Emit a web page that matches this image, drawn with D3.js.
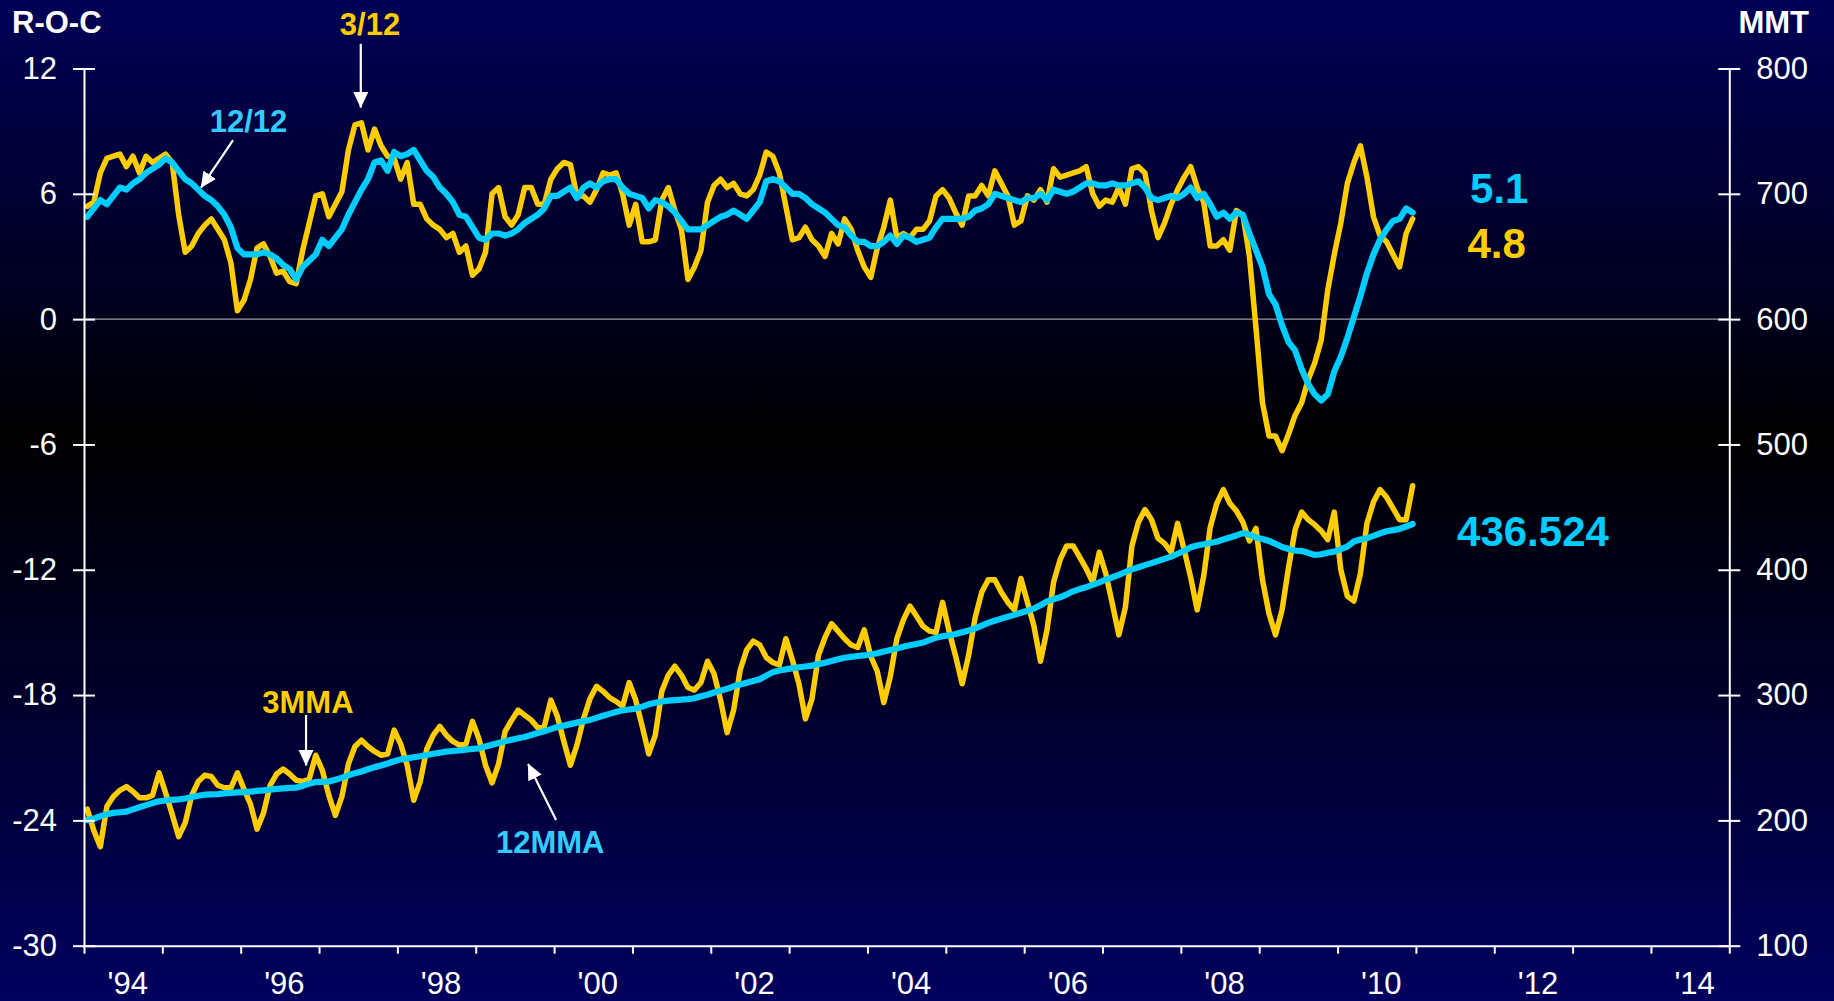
<!DOCTYPE html>
<html><head><meta charset="utf-8">
<script src="https://cdn.jsdelivr.net/npm/d3@7"></script>
<style>
html,body{margin:0;padding:0;background:#000;}
svg{display:block;}
</style></head><body>
<svg id="chart" width="1834" height="1001"></svg>
<script>
// ---- DATA: monthly, Jan 1994 .. Dec 2010 (one row per year) ----
const startYear = 1994;
const roc3 = [ // 3/12 rate of change (%), left axis
  5.4, 5.6, 7.0, 7.7, 7.8, 7.9, 7.3, 7.8, 7.0, 7.8, 7.5, 7.7,
  7.9, 7.5, 5.0, 3.2, 3.5, 4.1, 4.5, 4.8, 4.3, 3.8, 2.7, 0.4,
  0.9, 1.9, 3.4, 3.6, 3.0, 2.2, 2.3, 1.8, 1.7, 3.3, 4.6, 5.9,
  6.0, 4.9, 5.5, 6.1, 8.1, 9.3, 9.4, 8.1, 9.1, 8.3, 7.8, 7.7,
  6.7, 7.5, 5.5, 5.5, 4.8, 4.5, 4.3, 3.9, 4.1, 3.2, 3.5, 2.1,
  2.4, 3.2, 6.0, 6.3, 4.9, 4.5, 5.0, 6.3, 6.3, 5.5, 5.5, 6.7,
  7.2, 7.5, 7.4, 5.9, 5.9, 5.6, 6.2, 7.0, 6.9, 7.0, 6.0, 4.5,
  5.5, 3.7, 3.7, 3.8, 5.7, 6.3, 5.2, 4.3, 1.9, 2.5, 3.3, 5.6,
  6.4, 6.7, 6.3, 6.5, 6.0, 5.9, 6.2, 6.9, 8.0, 7.8, 7.0, 5.4,
  3.8, 3.9, 4.4, 3.8, 3.5, 3.0, 4.1, 3.6, 4.8, 4.3, 3.3, 2.5,
  2.0, 3.4, 4.4, 5.7, 3.9, 4.1, 3.9, 4.3, 4.3, 4.7, 5.9, 6.2,
  5.8, 5.1, 4.5, 5.9, 5.9, 6.4, 5.9, 7.1, 6.5, 5.9, 4.5, 4.7,
  5.9, 5.7, 6.2, 5.6, 7.2, 6.8, 6.9, 7.0, 7.1, 7.3, 6.0, 5.4,
  5.7, 5.6, 6.3, 5.5, 7.2, 7.3, 7.0, 5.2, 3.9, 4.6, 5.5, 6.2,
  6.8, 7.3, 6.3, 5.6, 3.5, 3.5, 3.8, 3.3, 5.2, 5.0, 3.0, -0.4,
  -4.0, -5.6, -5.6, -6.3, -5.5, -4.6, -4.0, -2.9, -2.1, -1.0, 1.4, 3.1,
  4.6, 6.5, 7.5, 8.3, 6.8, 4.9, 4.0, 3.7, 3.1, 2.5, 4.1, 4.8
];
const roc12 = [ // 12/12 rate of change (%), left axis
  4.9, 5.3, 5.7, 5.5, 5.9, 6.3, 6.2, 6.5, 6.7, 7.0, 7.2, 7.4,
  7.7, 7.5, 7.1, 6.7, 6.5, 6.2, 5.9, 5.7, 5.4, 5.0, 4.4, 3.4,
  3.1, 3.1, 3.1, 3.2, 3.1, 2.9, 2.6, 2.4, 1.9, 2.5, 2.8, 3.1,
  3.8, 3.5, 3.9, 4.3, 5.0, 5.6, 6.2, 6.7, 7.5, 7.6, 7.1, 8.0,
  7.8, 7.9, 8.1, 7.6, 7.1, 6.8, 6.3, 6.0, 5.6, 5.0, 4.9, 4.4,
  3.9, 3.8, 4.1, 4.1, 4.0, 4.1, 4.3, 4.6, 4.8, 5.0, 5.3, 5.9,
  5.9, 6.1, 6.3, 5.8, 6.3, 6.5, 6.3, 6.6, 6.7, 6.7, 6.3, 6.0,
  5.9, 5.8, 5.3, 5.7, 5.6, 5.4, 5.1, 4.7, 4.3, 4.3, 4.3, 4.5,
  4.7, 4.9, 5.0, 5.2, 5.0, 4.8, 5.2, 5.6, 6.6, 6.7, 6.6, 6.3,
  6.0, 6.0, 5.8, 5.5, 5.3, 5.1, 4.8, 4.5, 4.4, 4.0, 3.7, 3.7,
  3.5, 3.5, 3.7, 4.0, 3.6, 4.0, 3.9, 3.7, 3.8, 3.9, 4.4, 4.8,
  4.8, 4.8, 4.8, 4.9, 5.2, 5.3, 5.5, 6.0, 5.9, 5.8, 5.7, 5.6,
  5.8, 5.8, 6.0, 5.7, 6.2, 6.1, 6.0, 6.1, 6.3, 6.5, 6.5, 6.4,
  6.4, 6.5, 6.4, 6.4, 6.5, 6.6, 6.3, 5.8, 5.7, 5.8, 5.9, 5.8,
  6.0, 6.3, 5.8, 6.0, 5.5, 4.9, 5.1, 4.8, 5.1, 5.0, 4.1, 3.3,
  2.5, 1.2, 0.7, -0.3, -1.1, -1.5, -2.4, -3.1, -3.6, -3.9, -3.6, -2.5,
  -1.8, -0.9, 0.1, 1.1, 2.2, 3.1, 3.8, 4.3, 4.7, 4.8, 5.3, 5.1
];
const mma3 = [ // 3-month moving average (MMT), right axis
  209, 192, 179, 211, 219, 224, 227, 223, 218, 218, 220, 238,
  222, 205, 187, 198, 220, 231, 236, 235, 228, 226, 226, 238,
  225, 213, 193, 206, 228, 237, 241, 237, 232, 231, 233, 252,
  240, 220, 204, 219, 245, 259, 264, 259, 255, 252, 253, 272,
  261, 244, 216, 231, 257, 268, 275, 268, 263, 260, 261, 279,
  265, 244, 230, 245, 271, 280, 288, 284, 280, 274, 275, 296,
  283, 263, 244, 260, 281, 297, 307, 303, 298, 295, 291, 310,
  296, 275, 253, 268, 303, 316, 323, 316, 306, 304, 310, 327,
  317, 296, 270, 288, 320, 336, 343, 340, 330, 326, 324, 345,
  328, 309, 281, 297, 332, 346, 357, 351, 345, 340, 338, 352,
  331, 319, 294, 315, 345, 360, 371, 363, 355, 351, 350, 374,
  351, 331, 309, 332, 362, 382, 392, 392, 382, 374, 368, 393,
  374, 355, 327, 352, 390, 408, 419, 419, 410, 401, 390, 414,
  397, 373, 348, 370, 419, 438, 448, 440, 425, 421, 414, 437,
  416, 394, 368, 395, 434, 453, 464, 453, 447, 438, 423, 433,
  392, 365, 348, 368, 402, 432, 446, 440, 436, 431, 424, 446,
  400, 379, 375, 397, 437, 454, 464, 458, 449, 440, 440, 467
];
const mma12 = [ // 12-month moving average (MMT), right axis
  200.2, 201.4, 203.3, 205.0, 206.0, 206.5, 207.0, 208.8, 210.5, 212.2, 213.8, 215.2,
  215.9, 216.3, 216.8, 217.5, 218.6, 219.7, 220.5, 220.8, 221.0, 221.5, 221.9, 222.3,
  222.6, 223.0, 223.5, 224.0, 224.6, 225.2, 225.6, 226.0, 226.2, 227.5, 229.3, 230.6,
  230.8, 231.0, 232.5, 234.0, 236.0, 237.7, 239.0, 240.8, 242.5, 243.8, 245.4, 247.2,
  248.7, 249.5, 250.4, 251.2, 252.2, 253.2, 254.0, 254.9, 255.4, 255.9, 256.5, 257.0,
  257.5, 259.0, 260.4, 261.8, 263.2, 264.4, 265.5, 266.6, 268.2, 269.8, 271.2, 272.8,
  274.5, 275.6, 276.8, 278.0, 279.2, 280.2, 281.8, 283.5, 285.0, 286.5, 287.8, 288.5,
  289.2, 290.8, 292.6, 293.8, 294.9, 295.6, 296.0, 296.3, 296.8, 297.5, 299.0, 300.3,
  302.0, 303.5, 305.0, 307.0, 308.5, 309.8, 311.2, 312.6, 315.5, 318.3, 319.7, 320.5,
  321.5, 322.2, 322.8, 323.5, 324.7, 325.8, 327.1, 328.5, 329.8, 330.5, 331.2, 331.7,
  332.4, 333.4, 334.7, 336.0, 337.2, 338.5, 339.8, 340.8, 341.9, 343.8, 345.8, 346.9,
  347.6, 348.7, 350.2, 351.6, 353.2, 355.4, 357.6, 359.3, 361.0, 362.5, 364.0, 365.7,
  367.3, 369.0, 371.7, 374.8, 376.5, 378.0, 380.3, 382.8, 384.6, 386.1, 388.0, 389.9,
  392.1, 394.0, 396.0, 398.2, 400.3, 402.0, 403.7, 405.3, 407.0, 408.7, 410.5, 412.8,
  415.0, 418.0, 419.4, 420.3, 421.4, 422.3, 424.2, 425.8, 427.4, 429.3, 428.0, 425.8,
  424.6, 423.0, 420.7, 418.2, 416.6, 415.3, 415.0, 413.5, 411.8, 412.4, 413.6, 414.5,
  416.5, 418.5, 422.5, 424.2, 425.2, 427.0, 429.0, 430.7, 431.6, 432.6, 434.5, 436.524
];
const leftTicks  = [-30, -24, -18, -12, -6, 0, 6, 12];
const rightTicks = [100, 200, 300, 400, 500, 600, 700, 800];
const yearLabels = ["'94","'96","'98","'00","'02","'04","'06","'08","'10","'12","'14"];
const totalYears = 21; // axis spans 1994..2014
const endLabels = { roc12: "5.1", roc3: "4.8", mma12: "436.524" };
const seriesNames = { roc3: "3/12", roc12: "12/12", mma3: "3MMA", mma12: "12MMA" };

// ---- LAYOUT ----
const W = 1834, H = 1001;
const plot = { left: 84, right: 1729.3, top: 68.5, bottom: 945.7 };
const YELLOW = "#FFCC00", CYAN = "#00CCFF", CYAN_LABEL = "#33CCFF";
const FONT = "'Liberation Sans', Arial, Helvetica, sans-serif";

const svg = d3.select("#chart");
const defs = svg.append("defs");
const grad = defs.append("linearGradient").attr("id","bg").attr("x1",0).attr("y1",0).attr("x2",0).attr("y2",1);
[["0%","#000056"],["30%","#000020"],["43%","#000000"],["100%","#00005E"]]
  .forEach(([o,c]) => grad.append("stop").attr("offset",o).attr("stop-color",c));
defs.append("marker").attr("id","arrow").attr("viewBox","0 0 16 16")
  .attr("refX",15.5).attr("refY",8).attr("markerWidth",16).attr("markerHeight",16)
  .attr("markerUnits","userSpaceOnUse").attr("orient","auto")
  .append("path").attr("d","M0,0.5 L16,8 L0,15.5 Z").attr("fill","#fff");

svg.append("rect").attr("width",W).attr("height",H).attr("fill","url(#bg)");

const nMonths = totalYears * 12;
const x  = d3.scaleLinear().domain([0, nMonths]).range([plot.left, plot.right]);
const yL = d3.scaleLinear().domain([-30, 12]).range([plot.bottom, plot.top]);
const yR = d3.scaleLinear().domain([100, 800]).range([plot.bottom, plot.top]);

// zero line
svg.append("line").attr("x1", x(0)).attr("x2", x(nMonths))
  .attr("y1", yL(0)).attr("y2", yL(0))
  .attr("stroke","#9a9aa8").attr("stroke-width",1.2);

// series
const lineL = d3.line().x((d,i) => x(i + 0.5)).y(d => yL(d));
const lineR = d3.line().x((d,i) => x(i + 0.5)).y(d => yR(d));
const seriesG = svg.append("g").attr("fill","none").attr("stroke-linejoin","round").attr("stroke-linecap","round");
seriesG.append("path").attr("d", lineR(mma3)).attr("stroke",YELLOW).attr("stroke-width",5.5);
seriesG.append("path").attr("d", lineR(mma12)).attr("stroke",CYAN).attr("stroke-width",6.2);
seriesG.append("path").attr("d", lineL(roc3)).attr("stroke",YELLOW).attr("stroke-width",5.5);
seriesG.append("path").attr("d", lineL(roc12)).attr("stroke",CYAN).attr("stroke-width",6.2);

// axes
function styleAxis(g){
  g.selectAll("path.domain").attr("stroke","#fff").attr("stroke-width",2);
  g.selectAll(".tick line").attr("stroke","#fff").attr("stroke-width",2);
  g.selectAll("text").attr("fill","#fff").style("font-family",FONT).style("font-size","31px");
}
const gL = svg.append("g").attr("transform",`translate(${x(0)},0)`)
  .call(d3.axisLeft(yL).tickValues(leftTicks).tickSizeInner(11).tickSizeOuter(0).tickPadding(16).tickFormat(d => String(d)));
gL.selectAll(".tick line").attr("x1", 11);
styleAxis(gL);

const gR = svg.append("g").attr("transform",`translate(${x(nMonths)},0)`)
  .call(d3.axisRight(yR).tickValues(rightTicks).tickSizeInner(11).tickSizeOuter(0).tickPadding(16).tickFormat(d => String(d)));
gR.selectAll(".tick line").attr("x1", -11);
styleAxis(gR);

const gB = svg.append("g").attr("transform",`translate(0,${yL(-30)})`)
  .call(d3.axisBottom(x).tickValues(d3.range(0, nMonths + 1, 12)).tickSizeInner(8).tickSizeOuter(0).tickFormat(""));
styleAxis(gB);

const gBL = svg.append("g").attr("transform",`translate(0,${yL(-30)})`)
  .call(d3.axisBottom(x).tickValues(yearLabels.map((d,i) => 6 + 24*i)).tickSize(0).tickPadding(26)
    .tickFormat((d,i) => yearLabels[i]));
gBL.select("path.domain").remove();
styleAxis(gBL);
gBL.selectAll("text").attr("dx", 4);

// axis titles
svg.append("text").attr("x", 12).attr("y", 33).text("R-O-C")
  .attr("fill","#fff").style("font-family",FONT).style("font-size","31px").style("font-weight","bold");
svg.append("text").attr("x", 1809).attr("y", 33).attr("text-anchor","end").text("MMT")
  .attr("fill","#fff").style("font-family",FONT).style("font-size","31px").style("font-weight","bold");

// annotations (positioned in data units through the scales)
const notes = [
  { text: seriesNames.roc3,  color: YELLOW,     scale: yL, tx: 43.8, ty: 13.6,  a: [42.39, 13.18, 42.39, 10.13] },
  { text: seriesNames.roc12, color: CYAN_LABEL, scale: yL, tx: 25.2, ty: 8.97,  a: [22.83, 8.57, 17.92, 6.30] },
  { text: seriesNames.mma3,  color: YELLOW,     scale: yR, tx: 34.3, ty: 285.9, a: [34.01, 284.1, 34.01, 243.8] },
  { text: seriesNames.mma12, color: CYAN_LABEL, scale: yR, tx: 71.4, ty: 173.7, a: [72.31, 200.3, 68.02, 245.0] }
];
notes.forEach(n => {
  svg.append("text").attr("x", x(n.tx)).attr("y", n.scale(n.ty)).attr("text-anchor","middle")
    .text(n.text).attr("fill", n.color).style("font-family",FONT).style("font-size","31px").style("font-weight","bold");
  svg.append("line").attr("x1", x(n.a[0])).attr("y1", n.scale(n.a[1]))
    .attr("x2", x(n.a[2])).attr("y2", n.scale(n.a[3]))
    .attr("stroke","#fff").attr("stroke-width",2.2).attr("marker-end","url(#arrow)");
});

// latest values
const ends = [
  { text: endLabels.roc12, color: CYAN,   scale: yL, tx: 212.3, ty: 5.575 },
  { text: endLabels.roc3,  color: YELLOW, scale: yL, tx: 211.9, ty: 2.91 },
  { text: endLabels.mma12, color: CYAN,   scale: yR, tx: 210.3, ty: 418.96 }
];
ends.forEach(e => {
  svg.append("text").attr("x", x(e.tx)).attr("y", e.scale(e.ty)).text(e.text)
    .attr("fill", e.color).style("font-family",FONT).style("font-size","42px").style("font-weight","bold");
});
</script>
</body></html>
